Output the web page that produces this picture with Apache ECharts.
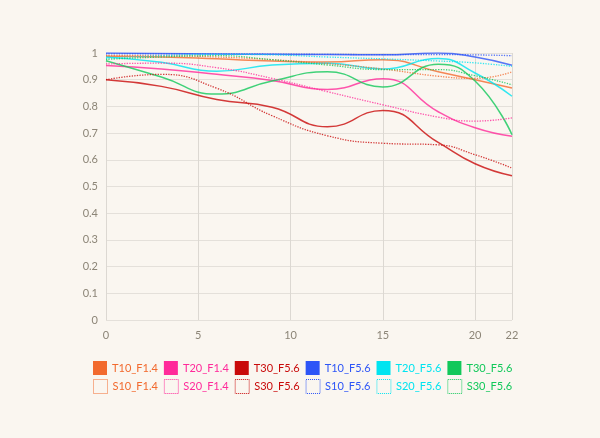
<!DOCTYPE html>
<html>
<head>
<meta charset="utf-8">
<script src="https://cdn.jsdelivr.net/npm/echarts@6/dist/echarts.min.js"></script>
<style>
html,body{margin:0;padding:0;background:#faf6f0;}
#c{width:600px;height:438px;}
</style>
</head>
<body>
<div id="c"></div>
<script>
// x positions (mm from centre)
var xs = [0, 3, 6, 9, 12, 15, 18, 20, 22];
var yTicks = [0, 0.1, 0.2, 0.3, 0.4, 0.5, 0.6, 0.7, 0.8, 0.9, 1];

var T10_F14 = [0.988, 0.985, 0.978, 0.970, 0.966, 0.975, 0.930, 0.900, 0.869];
var T20_F14 = [0.953, 0.940, 0.920, 0.897, 0.863, 0.904, 0.780, 0.720, 0.688];
var T30_F14 = [0.900, 0.875, 0.826, 0.797, 0.724, 0.785, 0.665, 0.585, 0.540];
var T10_F56 = [1.000, 0.998, 0.996, 0.995, 0.994, 0.993, 1.000, 0.985, 0.954];
var T20_F56 = [0.985, 0.965, 0.932, 0.955, 0.962, 0.940, 0.979, 0.925, 0.838];
var T30_F56 = [0.971, 0.910, 0.846, 0.895, 0.930, 0.873, 0.958, 0.895, 0.694];

var S10_F14 = [0.990, 0.990, 0.985, 0.975, 0.960, 0.940, 0.913, 0.905, 0.929];
var S20_F14 = [0.959, 0.962, 0.945, 0.905, 0.855, 0.806, 0.760, 0.745, 0.757];
var S30_F14 = [0.900, 0.920, 0.868, 0.765, 0.690, 0.662, 0.656, 0.619, 0.569];
var S10_F56 = [0.997, 0.997, 0.997, 0.996, 0.995, 0.994, 0.994, 0.993, 0.990];
var S20_F56 = [0.980, 0.990, 0.995, 0.993, 0.985, 0.978, 0.970, 0.963, 0.950];
var S30_F56 = [0.976, 0.985, 0.990, 0.975, 0.955, 0.938, 0.938, 0.915, 0.881];

var tNames = ['T10_F1.4', 'T20_F1.4', 'T30_F1.4', 'T10_F5.6', 'T20_F5.6', 'T30_F5.6'];
var sNames = ['S10_F1.4', 'S20_F1.4', 'S30_F1.4', 'S10_F5.6', 'S20_F5.6', 'S30_F5.6'];
// labels as printed in the legend
var tLabels = ['T10_F1.4', 'T20_F1.4', 'T30_F5.6', 'T10_F5.6', 'T20_F5.6', 'T30_F5.6'];
var sLabels = ['S10_F1.4', 'S20_F1.4', 'S30_F5.6', 'S10_F5.6', 'S20_F5.6', 'S30_F5.6'];
var tData = [T10_F14, T20_F14, T30_F14, T10_F56, T20_F56, T30_F56];
var sData = [S10_F14, S20_F14, S30_F14, S10_F56, S20_F56, S30_F56];
var colors = ['#f26a2e', '#ff2a9a', '#c90a0a', '#2d55f7', '#00e4f0', '#12c85a'];

var labelMap = {};
tNames.forEach(function (n, i) { labelMap[n] = tLabels[i]; });
sNames.forEach(function (n, i) { labelMap[n] = sLabels[i]; });

function pairs(arr) { return xs.map(function (x, i) { return [x, arr[i]]; }); }

var series = [];
tNames.forEach(function (n, i) {
  series.push({
    name: n, type: 'line', smooth: true, showSymbol: false, symbol: 'none',
    data: pairs(tData[i]), color: colors[i],
    lineStyle: { width: 1.5, color: colors[i], opacity: 0.8 }
  });
});
sNames.forEach(function (n, i) {
  series.push({
    name: n, type: 'line', smooth: true, showSymbol: false, symbol: 'none',
    data: pairs(sData[i]), color: colors[i],
    lineStyle: { width: 1.3, type: 'dotted', color: colors[i], opacity: 0.8 }
  });
});

var font = 'Lato, "DejaVu Sans", sans-serif';
function legend(names, top, solid) {
  return {
    top: top, left: 93, padding: 0, itemWidth: 14, itemHeight: 14, itemGap: 6,
    selectedMode: false,
    formatter: function (n) { return labelMap[n]; },
    data: names.map(function (n, i) {
      return {
        name: n, icon: 'rect',
        itemStyle: solid ? { color: colors[i], borderWidth: 0 } :
          { color: 'rgba(0,0,0,0)', borderColor: colors[i], borderWidth: 1, borderType: 'dotted' },
        textStyle: { color: colors[i], fontSize: 11, fontFamily: font, width: 46 }
      };
    })
  };
}

var chart = echarts.init(document.getElementById('c'));
chart.setOption({
  backgroundColor: '#faf6f0',
  animation: false,
  grid: { left: 106, right: 88, top: 53, bottom: 118 },
  legend: [legend(tNames, 361, true), legend(sNames, 379, false)],
  xAxis: {
    type: 'value', min: 0, max: 22, interval: 5,
    axisLine: { show: false }, axisTick: { show: false },
    splitLine: { show: true, lineStyle: { color: '#dcd8d2', width: 1 } },
    axisLabel: { color: '#8c8577', fontSize: 11, fontFamily: font, margin: 10, showMaxLabel: true }
  },
  yAxis: {
    type: 'value', min: 0, max: 1, interval: 0.1,
    axisLine: { show: false }, axisTick: { show: false },
    splitLine: { show: true, lineStyle: { color: '#e4e0da', width: 1 } },
    axisLabel: {
      color: '#8c8577', fontSize: 11, fontFamily: font, margin: 8,
      formatter: function (v) {
        var r = Math.round(v * 10) / 10;
        return yTicks.indexOf(r) >= 0 ? String(r) : '';
      }
    }
  },
  series: series
});
</script>
</body>
</html>
